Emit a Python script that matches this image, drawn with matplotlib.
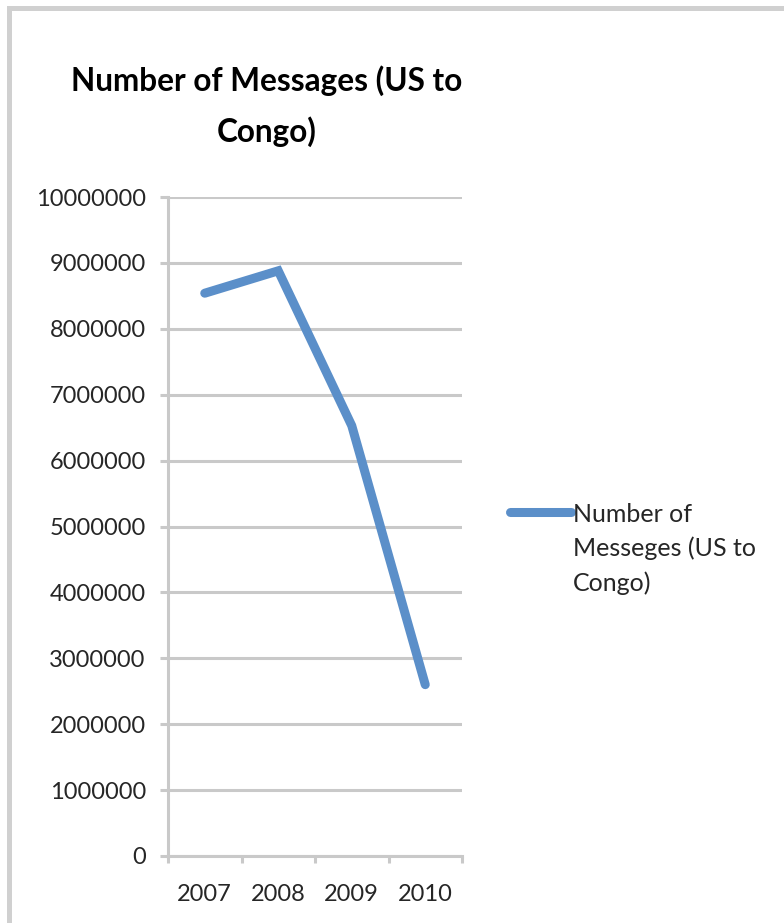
import matplotlib
matplotlib.use('Agg')
import matplotlib.pyplot as plt
from matplotlib.patches import Rectangle
from matplotlib.lines import Line2D

# data
years = ['2007', '2008', '2009', '2010']
messages = [8540000, 8880000, 6530000, 2600000]
yticks = list(range(0, 10000001, 1000000))
series_name = 'Number of\nMesseges (US to\nCongo)'

plt.rcParams['font.family'] = ['Lato', 'DejaVu Sans']

grid_col = '#c9c9c9'
line_col = '#5b8fc9'
text_col = '#262626'

fig = plt.figure(figsize=(7.84, 9.23), dpi=100)
ax = fig.add_axes([168 / 784, 67 / 923, 294 / 784, 659 / 923])

x = list(range(len(years)))
ax.plot(x, messages, color=line_col, lw=6.5, solid_capstyle='round',
        solid_joinstyle='miter', zorder=3)

ax.set_xlim(-0.5, len(years) - 0.5)
ax.set_ylim(0, 10000000)
ax.set_yticks(yticks)
ax.set_yticklabels([str(v) for v in yticks])
ax.yaxis.grid(True, color=grid_col, lw=2.2)
ax.set_axisbelow(True)

# category ticks sit between the labels
ax.set_xticks([i - 0.5 for i in range(len(years) + 1)])
ax.set_xticklabels([])
ax.set_xticks(x, minor=True)
ax.set_xticklabels(years, minor=True)
ax.tick_params(axis='x', which='major', length=5, width=2.2, color=grid_col, direction='out')
ax.tick_params(axis='x', which='minor', length=0, pad=20, labelsize=17, labelcolor=text_col)
ax.tick_params(axis='y', length=6, width=2.2, color=grid_col, pad=10,
               labelsize=17, labelcolor=text_col)

for s in ['top', 'right']:
    ax.spines[s].set_visible(False)
for s in ['left', 'bottom']:
    ax.spines[s].set_color(grid_col)
    ax.spines[s].set_linewidth(2.2)

fig.text(267 / 784, 1 - 106 / 923, 'Number of Messages (US to\nCongo)',
         ha='center', va='center', fontsize=22.7, fontweight='bold',
         color='black', linespacing=1.8)

# legend: short line with the series name beside it
fig.add_artist(Line2D([510 / 784, 571 / 784], [1 - 512 / 923, 1 - 512 / 923],
                      color=line_col, lw=6.5, solid_capstyle='round'))
fig.text(573 / 784, 1 - 503 / 923, series_name, ha='left', va='top',
         fontsize=18, color=text_col, linespacing=1.55)

# light grey frame of the chart area
fig.patches.append(Rectangle((8.5 / 784, -0.1), 1.2, 1.1 - 8.5 / 923,
                             transform=fig.transFigure, fill=False,
                             edgecolor='#d0d0d0', lw=3.6, zorder=0))

fig.savefig('out.png', dpi=100)
